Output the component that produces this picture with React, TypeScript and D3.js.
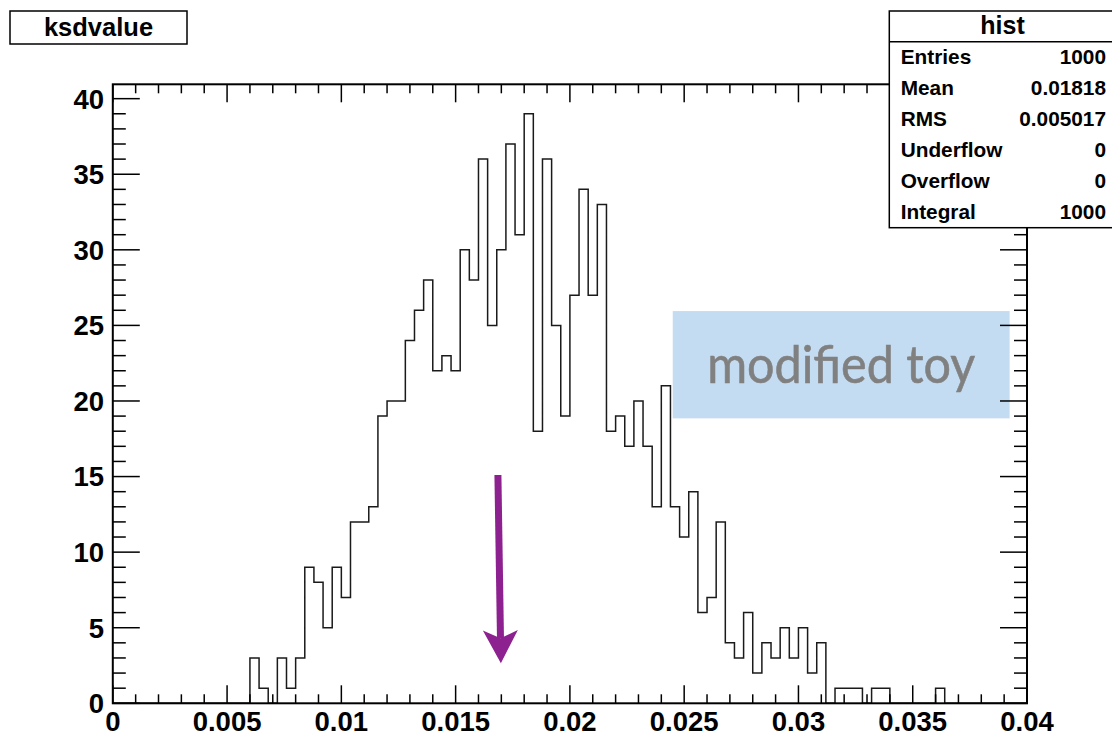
import React from 'react';
import * as d3 from 'd3';

// Histogram "hist" of ksdvalue: 100 bins over [0, 0.04]
const xMin = 0;
const xMax = 0.04;
const binCounts = [
  0, 0, 0, 0, 0, 0, 0, 0, 0, 0,
  0, 0, 0, 0, 0, 3, 1, 0, 3, 1,
  3, 9, 8, 5, 9, 7, 12, 12, 13, 19,
  20, 20, 24, 26, 28, 22, 23, 22, 30, 28,
  36, 25, 30, 37, 31, 39, 18, 36, 25, 19,
  27, 34, 27, 33, 18, 19, 17, 20, 17, 13,
  21, 13, 11, 14, 6, 7, 12, 4, 3, 6,
  2, 4, 3, 5, 3, 5, 2, 4, 0, 1,
  1, 1, 0, 1, 1, 0, 0, 0, 0, 0,
  1, 0, 0, 0, 0, 0, 0, 0, 0, 0,
];

const xMajorTicks = [0, 0.005, 0.01, 0.015, 0.02, 0.025, 0.03, 0.035, 0.04];
const xTickLabels = ['0', '0.005', '0.01', '0.015', '0.02', '0.025', '0.03', '0.035', '0.04'];
const yMajorTicks = [0, 5, 10, 15, 20, 25, 30, 35, 40];
const yTickLabels = ['0', '5', '10', '15', '20', '25', '30', '35', '40'];

const histTitle = 'ksdvalue';
const statsTitle = 'hist';
const statsNames = ['Entries', 'Mean', 'RMS', 'Underflow', 'Overflow', 'Integral'];
const statsValues = ['1000', '0.01818', '0.005017', '0', '0', '1000'];

// annotation: label box and arrow, in data coordinates
const noteText = 'modified toy';
const noteBox = { x0: 0.0245, x1: 0.03924, y0: 18.85, y1: 25.95 };
const arrowFrom = { x: 0.01685, y: 15.1 };
const arrowTo = { x: 0.01698, y: 2.65 };

const W = 1112;
const H = 738;
const FONT = '"Liberation Sans", Arial, Helvetica, sans-serif';

export default function App() {
  const nBins = binCounts.length;
  const binWidth = (xMax - xMin) / nBins;
  const yTop = d3.max(binCounts)! * 1.05;

  const x = d3.scaleLinear().domain([xMin, xMax]).range([112.8, 1027]);
  const y = d3.scaleLinear().domain([0, yTop]).range([703.3, 84.3]);

  // step outline of the histogram
  const pts: [number, number][] = [[x(xMin), y(0)]];
  binCounts.forEach((c, i) => {
    const a = xMin + i * binWidth;
    pts.push([x(a), y(c)]);
    pts.push([x(a + binWidth), y(c)]);
  });
  pts.push([x(xMax), y(0)]);
  const histPath = d3.line()(pts) ?? '';

  const xMinor = d3.range(0, 41).map((i) => i * 0.001);
  const yMinor = d3.range(0, Math.floor(yTop) + 1);

  const [fx0, fx1] = x.range();
  const [fy0, fy1] = y.range();

  // arrow geometry
  const ax0 = x(arrowFrom.x), ay0 = y(arrowFrom.y);
  const ax1 = x(arrowTo.x), ay1 = y(arrowTo.y);
  const ang = Math.atan2(ay1 - ay0, ax1 - ax0);
  const headLen = 33, headHalf = 17.5, notch = 8;
  const ux = Math.cos(ang), uy = Math.sin(ang);
  const px = -uy, py = ux;
  const bx = ax1 - ux * headLen, by = ay1 - uy * headLen;
  const nx = ax1 - ux * (headLen - notch), ny = ay1 - uy * (headLen - notch);
  const head = `M${ax1},${ay1} L${bx + px * headHalf},${by + py * headHalf} L${nx},${ny} L${bx - px * headHalf},${by - py * headHalf} Z`;

  const statsLeft = 889.3;
  const statsTop = 11;
  const statsHeader = 41.7;
  const rowH = 31;

  return (
    <div style={{ position: 'absolute', left: 0, top: 0 }}>
      <svg width={W} height={H} viewBox={`0 0 ${W} ${H}`} style={{ display: 'block', background: '#fff' }}>
        {/* annotation box */}
        <rect
          x={x(noteBox.x0)}
          y={y(noteBox.y1)}
          width={x(noteBox.x1) - x(noteBox.x0)}
          height={y(noteBox.y0) - y(noteBox.y1)}
          fill="#c4dcf2"
        />
        <text
          x={(x(noteBox.x0) + x(noteBox.x1)) / 2}
          y={382.7}
          textAnchor="middle"
          fontFamily='Lato, "Open Sans", sans-serif'
          fontSize={52}
          fill="#808080"
          stroke="#808080"
          strokeWidth={0.6}
          textLength={268}
          lengthAdjust="spacingAndGlyphs"
        >
          {noteText}
        </text>

        {/* histogram */}
        <path d={histPath} fill="none" stroke="#1a1a1a" strokeWidth={1.5} />

        {/* frame */}
        <rect x={fx0} y={fy1} width={fx1 - fx0} height={fy0 - fy1} fill="none" stroke="#000" strokeWidth={2} />

        {/* x ticks, bottom and top */}
        {xMinor.map((v, i) => {
          const major = i % 5 === 0;
          const len = major ? 18 : 9;
          const xx = x(v);
          return (
            <g key={`xt${i}`}>
              <line x1={xx} x2={xx} y1={fy0} y2={fy0 - len} stroke="#000" strokeWidth={1.5} />
              <line x1={xx} x2={xx} y1={fy1} y2={fy1 + len} stroke="#000" strokeWidth={1.5} />
            </g>
          );
        })}

        {/* y ticks, left and right */}
        {yMinor.map((v) => {
          const major = v % 5 === 0;
          const len = major ? 27 : 13;
          const yy = y(v);
          return (
            <g key={`yt${v}`}>
              <line x1={fx0} x2={fx0 + len} y1={yy} y2={yy} stroke="#000" strokeWidth={1.5} />
              <line x1={fx1} x2={fx1 - len} y1={yy} y2={yy} stroke="#000" strokeWidth={1.5} />
            </g>
          );
        })}

        {/* tick labels */}
        {xMajorTicks.map((v, i) => (
          <text key={`xl${i}`} x={x(v)} y={731} textAnchor="middle" fontFamily={FONT} fontWeight="bold" fontSize={27.5} fill="#000">
            {xTickLabels[i]}
          </text>
        ))}
        {yMajorTicks.map((v, i) => (
          <text key={`yl${i}`} x={104} y={y(v)} dy="0.36em" textAnchor="end" fontFamily={FONT} fontWeight="bold" fontSize={27.5} fill="#000">
            {yTickLabels[i]}
          </text>
        ))}

        {/* arrow */}
        <line x1={ax0} y1={ay0} x2={nx} y2={ny} stroke="#8e2190" strokeWidth={7} />
        <path d={head} fill="#8e2190" />

        {/* title box */}
        <rect x={10} y={11} width={177} height={33} fill="#fff" stroke="#000" strokeWidth={1.5} />
        <text x={98.5} y={35.5} textAnchor="middle" fontFamily={FONT} fontWeight="bold" fontSize={25.5} fill="#000">
          {histTitle}
        </text>

        {/* statistics box */}
        <rect x={statsLeft} y={statsTop} width={W - statsLeft + 5} height={statsHeader + rowH * statsNames.length - statsTop} fill="#fff" stroke="#000" strokeWidth={1.5} />
        <line x1={statsLeft} x2={W} y1={statsHeader} y2={statsHeader} stroke="#000" strokeWidth={1.5} />
        <text x={1002.5} y={33.5} textAnchor="middle" fontFamily={FONT} fontWeight="bold" fontSize={25} fill="#000">
          {statsTitle}
        </text>
        {statsNames.map((name, i) => (
          <g key={`st${i}`}>
            <text x={900.7} y={63.5 + i * rowH} fontFamily={FONT} fontWeight="bold" fontSize={20.8} fill="#000">
              {name}
            </text>
            <text x={1106} y={63.5 + i * rowH} textAnchor="end" fontFamily={FONT} fontWeight="bold" fontSize={20.8} fill="#000">
              {statsValues[i]}
            </text>
          </g>
        ))}
      </svg>
    </div>
  );
}
